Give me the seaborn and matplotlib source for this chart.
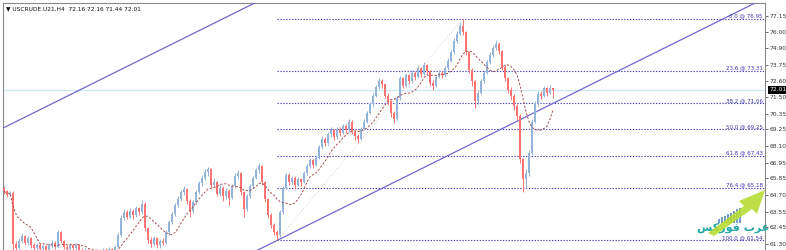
import numpy as np
import pandas as pd
import matplotlib
matplotlib.use("Agg")
import matplotlib.pyplot as plt
import matplotlib.transforms as mtransforms
from matplotlib.patches import Polygon, Rectangle
import seaborn as sns

# ---------------- data ----------------
title_text = "USCRUDE.U21,H4  72.16 72.16 71.44 72.01"
first_open = 65.10
closes = [64.95, 64.70, 64.85, 61.30, 61.05, 61.50, 61.85, 61.40, 61.70, 61.20,
          61.00, 61.25, 60.95, 61.15, 60.90, 61.20, 61.40, 61.10, 62.10, 61.50,
          61.10, 60.95, 61.20, 61.00, 61.25, 60.90, 60.70, 60.85, 60.60, 60.75,
          60.55, 60.80, 60.65, 60.90, 60.70, 60.95, 60.80, 61.10, 61.90, 63.10,
          63.50, 63.20, 63.60, 63.30, 63.80, 63.50, 64.10, 62.40, 61.60, 61.30,
          61.70, 61.20, 61.50, 61.40, 62.10, 62.80, 63.40, 64.00, 64.40, 64.90,
          65.10, 64.30, 63.60, 64.20, 64.90, 65.50, 65.90, 66.30, 66.50, 65.40,
          65.60, 64.80, 65.20, 64.60, 65.00, 64.50, 65.30, 66.00, 66.20, 64.90,
          63.70, 64.60, 65.30, 65.90, 66.40, 66.70, 65.60, 64.40, 63.30, 62.60,
          62.10, 61.90, 63.50, 65.20, 66.10, 65.60, 65.90, 65.40, 65.80, 65.60,
          66.20, 66.70, 67.10, 66.80, 67.30, 68.00, 68.60, 68.30, 68.90, 69.20,
          68.70, 69.30, 69.00, 69.50, 69.20, 69.80, 69.10, 68.80, 68.60, 69.30,
          69.80, 70.40, 71.00, 71.60, 72.20, 72.60, 72.40, 71.60, 71.20, 70.40,
          70.00, 71.40, 72.80, 72.30, 73.00, 72.60, 73.20, 72.90, 73.50, 73.10,
          73.70, 73.30, 72.50, 72.30, 72.90, 73.20, 73.00, 73.50, 74.00, 74.60,
          75.40, 75.90, 76.40, 76.00, 74.60, 73.40, 72.60, 71.20, 71.80, 72.60,
          73.20, 73.90, 74.40, 74.90, 75.20, 74.70, 73.60, 72.80, 72.00, 71.60,
          70.90, 70.20, 67.20, 65.80, 66.20, 67.60, 69.80, 71.00, 71.70, 71.60,
          72.10, 71.80, 72.16, 72.01]
highs = [65.35, 65.05, 65.00, 64.95, 61.50, 61.70, 62.05, 61.95, 61.85, 61.80,
         61.35, 61.40, 61.35, 61.30, 61.25, 61.35, 61.55, 61.50, 62.30, 62.20,
         61.60, 61.25, 61.35, 61.30, 61.40, 61.30, 61.00, 61.00, 60.95, 60.90,
         60.85, 60.95, 60.90, 61.05, 61.00, 61.10, 61.05, 61.25, 62.05, 63.30,
         63.70, 63.65, 63.80, 63.70, 63.95, 63.90, 64.35, 64.20, 62.50, 61.75,
         61.85, 61.80, 61.65, 61.70, 62.25, 62.95, 63.55, 64.15, 64.60, 65.05,
         65.30, 65.20, 64.40, 64.35, 65.05, 65.70, 66.10, 66.50, 66.65, 66.60,
         65.85, 65.70, 65.40, 65.30, 65.20, 65.10, 65.45, 66.20, 66.45, 66.30,
         65.00, 64.75, 65.45, 66.05, 66.55, 66.95, 66.80, 65.70, 64.50, 63.45,
         62.75, 62.30, 63.65, 65.35, 66.25, 66.20, 66.05, 66.00, 65.95, 65.90,
         66.35, 66.85, 67.25, 67.20, 67.45, 68.15, 68.80, 68.70, 69.05, 69.40,
         69.30, 69.45, 69.40, 69.65, 69.60, 69.95, 69.90, 69.20, 68.95, 69.45,
         69.95, 70.55, 71.15, 71.75, 72.35, 72.85, 72.75, 72.50, 71.75, 71.30,
         70.55, 71.55, 72.95, 72.90, 73.20, 73.10, 73.40, 73.30, 73.70, 73.60,
         73.90, 73.80, 73.40, 72.65, 73.05, 73.40, 73.30, 73.65, 74.20, 74.80,
         75.60, 76.10, 76.70, 76.95, 76.10, 74.70, 73.50, 72.70, 72.00, 72.75,
         73.35, 74.05, 74.60, 75.10, 75.46, 75.30, 74.80, 73.70, 72.90, 72.20,
         71.70, 71.00, 70.30, 67.30, 66.50, 67.80, 70.00, 71.20, 71.90, 71.95,
         72.30, 72.20, 72.35, 72.16]
lows = [64.75, 64.55, 64.60, 60.80, 60.70, 60.95, 61.35, 61.20, 61.25, 61.00,
        60.80, 60.90, 60.80, 60.85, 60.75, 60.80, 61.05, 60.95, 61.00, 61.35,
        60.95, 60.80, 60.85, 60.85, 60.90, 60.75, 60.55, 60.60, 60.45, 60.50,
        60.40, 60.50, 60.50, 60.60, 60.55, 60.65, 60.65, 60.75, 61.00, 61.80,
        62.95, 63.00, 63.10, 63.05, 63.20, 63.30, 63.40, 62.20, 61.40, 61.10,
        61.15, 61.00, 61.05, 61.20, 61.30, 61.95, 62.70, 63.25, 63.85, 64.25,
        64.70, 64.10, 63.20, 63.45, 64.10, 64.80, 65.35, 65.75, 66.05, 65.20,
        65.25, 64.60, 64.65, 64.30, 64.45, 64.00, 64.40, 65.20, 65.80, 64.70,
        63.20, 63.60, 64.50, 65.20, 65.80, 66.25, 65.40, 64.20, 63.10, 62.40,
        61.90, 61.54, 61.80, 63.40, 65.10, 65.40, 65.45, 65.10, 65.30, 65.30,
        65.50, 66.10, 66.55, 66.60, 66.70, 67.20, 67.90, 68.10, 68.20, 68.75,
        68.50, 68.60, 68.80, 68.90, 69.00, 69.10, 68.90, 68.55, 68.30, 68.50,
        69.20, 69.70, 70.30, 70.90, 71.50, 72.05, 72.10, 71.40, 70.95, 70.10,
        69.70, 69.90, 71.30, 72.10, 72.20, 72.40, 72.50, 72.70, 72.80, 72.90,
        73.00, 73.10, 72.30, 72.00, 72.20, 72.80, 72.80, 72.90, 73.40, 73.90,
        74.50, 75.25, 75.80, 75.80, 74.40, 73.20, 72.30, 70.75, 71.00, 71.70,
        72.50, 73.10, 73.80, 74.30, 74.80, 74.50, 73.40, 72.60, 71.80, 71.30,
        70.60, 69.90, 66.90, 64.90, 65.20, 66.00, 67.50, 69.70, 70.90, 71.35,
        71.50, 71.60, 71.70, 71.44]

ma_window = 10
fib_levels = ["0.0", "23.6", "38.2", "50.0", "61.8", "76.4", "100.0"]
fib_prices = [76.95, 73.31, 71.06, 69.25, 67.43, 65.18, 61.54]
fib_low_bar, fib_high_bar = 91, 153
channel_lower = ([91, 183], [61.54, 71.06])
channel_upper = ([0, 80], [69.38, 77.66])
last_price = 72.01
ytick_values = [77.15, 76.00, 74.90, 73.75, 72.60, 71.50, 70.35, 69.25,
                68.10, 66.95, 65.85, 64.70, 63.55, 62.45, 61.30]
logo_text = "\ufeb2\ufedb\ufead\ufeee\ufed3 \ufe8f\ufeae\ufecb"  # visual form of "عرب فوركس"

# ---------------- figure ----------------
sns.set_style("white")
plt.rcParams['font.family'] = ['DejaVu Sans']
W, H = 786, 250
fig = plt.figure(figsize=(W / 100, H / 100), dpi=100)
fig.patch.set_facecolor("white")
ax = fig.add_axes([3 / W, 0, 762 / W, 247 / H])
ax.set_facecolor("white")

df = pd.DataFrame({"bar": np.arange(len(closes)), "close": closes,
                   "high": highs, "low": lows})
df["open"] = [first_open] + closes[:-1]
df["ma"] = df["close"].rolling(ma_window, min_periods=1).mean()

bull, bear = "#93b4d8", "#ff7272"
cols = np.where(df["close"] >= df["open"], bull, bear)

# current price line
ax.axhline(last_price, color="#cfe6f3", lw=0.9, zorder=1)

# fib lines
xmax = 253.67
for lvl, p in zip(fib_levels, fib_prices):
    ax.plot([fib_low_bar, xmax], [p, p], color="#4b3fc4", lw=0.8,
            linestyle=(0, (1.2, 1.4)), zorder=2)
    ax.text(xmax - 0.8, p + 0.03, f"{lvl} @ {p:.2f}", ha="right", va="bottom",
            fontsize=4.0, color="#3a34b0", zorder=6)
ax.plot([fib_low_bar, fib_high_bar], [fib_prices[-1], fib_prices[0]],
        color="#d2d2d2", lw=0.7, linestyle=(0, (1, 2)), zorder=1)

# channel
for xs, ys in (channel_lower, channel_upper):
    slope = (ys[1] - ys[0]) / (xs[1] - xs[0])
    xx = np.array([-5, 260])
    ax.plot(xx, ys[0] + slope * (xx - xs[0]), color="#7068d0", lw=0.9, zorder=3)

# candles
ax.vlines(df["bar"], df["low"], df["high"], colors=cols, lw=0.7, zorder=4)
body = (df["close"] - df["open"]).abs().clip(lower=0.05)
ax.bar(df["bar"], body, bottom=np.minimum(df["open"], df["close"]),
       width=0.6, color=cols, linewidth=0, zorder=4)

# moving average
sns.lineplot(x=df["bar"], y=df["ma"], ax=ax, color="#a84a4a", lw=0.7, zorder=5)
ax.lines[-1].set_dashes([2.2, 1.8])

ax.set_xlim(-0.33, xmax)
ax.set_ylim(60.88, 78.03)
ax.set_xlabel("")
ax.set_ylabel("")
ax.set_xticks([])
ax.yaxis.tick_right()
ax.set_yticks(ytick_values)
ax.set_yticklabels([f"{v:.2f}" for v in ytick_values])
ax.tick_params(axis="y", which="both", right=True, length=2, width=0.5,
               pad=1.5, labelsize=4.3, colors="#333333")
for side in ("left", "top", "right"):
    ax.spines[side].set_color("#8a8a8a")
    ax.spines[side].set_linewidth(0.8)
ax.spines["bottom"].set_visible(False)

# title
ax.text(0.004, 0.985, "\u25bc " + title_text, transform=ax.transAxes,
        ha="left", va="top", fontsize=4.2, color="#111111")

# last price box
trans = mtransforms.blended_transform_factory(ax.transAxes, ax.transData)
ax.text(1.006, last_price, f"{last_price:.2f}", transform=trans, ha="left",
        va="center", fontsize=4.3, color="white", clip_on=False, zorder=10,
        bbox=dict(boxstyle="square,pad=0.25", fc="black", ec="none"))

# logo (decoration, figure pixel coords)
def fpx(pts):
    return [(x / W, 1 - y / H) for x, y in pts]

arrow = Polygon(fpx([(708, 233), (744, 206), (739, 201), (765, 190),
                     (757, 214), (752, 209), (714, 236)]),
                closed=True, transform=fig.transFigure, fc="#b6dc34",
                ec="none", alpha=0.9, zorder=20)
fig.patches.append(arrow)
for k in range(8):
    h = 4 + 1.6 * k
    fig.patches.append(Rectangle(((718 + 3 * k) / W, 1 - 223 / H), 1.8 / W, h / H,
                                 transform=fig.transFigure, fc="#5b8cc8",
                                 ec="none", alpha=0.85, zorder=19))
fig.text(733 / W, 1 - 228 / H, logo_text, ha="center", va="center",
         fontsize=8, color="#22a7a5", fontweight="bold", family=["DejaVu Sans"])

fig.savefig("out.png", dpi=100)
